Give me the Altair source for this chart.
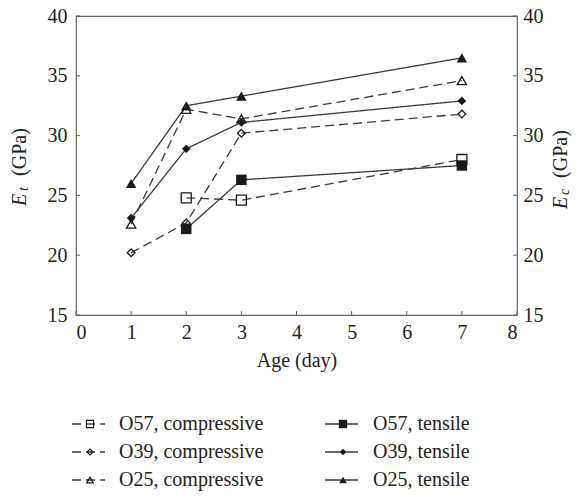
import altair as alt
import pandas as pd

# ---- data ----
series_names = ["O57, compressive", "O39, compressive", "O25, compressive",
                "O57, tensile", "O39, tensile", "O25, tensile"]
series_kind = ["compressive", "compressive", "compressive", "tensile", "tensile", "tensile"]
series_shape = ["square", "diamond", "triangle-up", "square", "diamond", "triangle-up"]
series_days = [[2, 3, 7], [1, 2, 3, 7], [1, 2, 3, 7],
               [2, 3, 7], [1, 2, 3, 7], [1, 2, 3, 7]]
series_values = [[24.8, 24.6, 28.0],
                 [20.2, 22.7, 30.2, 31.8],
                 [22.6, 32.2, 31.4, 34.6],
                 [22.2, 26.3, 27.5],
                 [23.1, 28.9, 31.1, 32.9],
                 [26.0, 32.5, 33.3, 36.5]]
x_ticks = [0, 1, 2, 3, 4, 5, 6, 7, 8]
y_ticks = [15, 20, 25, 30, 35, 40]

# ---- styles ----
W, H = 441, 299
FONT = "'Liberation Serif', 'Times New Roman', 'DejaVu Serif', serif"
LINE_C = "#3a3a3a"
MARK_C = "#1a1a1a"
AX_C = "#666666"
DASH = [9, 5]
size_filled = {"square": 110, "diamond": 75, "triangle-up": 110}
size_open = {"square": 100, "diamond": 60, "triangle-up": 85}
leg_size_filled = {"square": 70, "diamond": 40, "triangle-up": 60}
leg_size_open = {"square": 50, "diamond": 35, "triangle-up": 45}

rows = []
for name, kind, shp, ds, vs in zip(series_names, series_kind, series_shape, series_days, series_values):
    for d, v in zip(ds, vs):
        rows.append({"series": name, "kind": kind, "shape": shp, "day": d, "value": v,
                     "msize": (size_filled if kind == "tensile" else size_open)[shp]})
df = pd.DataFrame(rows)

xs = alt.Scale(domain=[0, 8], nice=False)
ys = alt.Scale(domain=[15, 40], nice=False)

X = alt.X("day:Q", scale=xs,
          axis=alt.Axis(values=x_ticks, format="d", ticks=False, domain=False, grid=False,
                        labelFont=FONT, labelFontSize=20, labelColor="#222", labelPadding=7,
                        title="Age (day)", titleFont=FONT, titleFontSize=20, titleFontWeight="normal",
                        titleColor="#222", titlePadding=8))
Y = alt.Y("value:Q", scale=ys,
          axis=alt.Axis(values=y_ticks, ticks=False, domain=False, grid=False,
                        labelFont=FONT, labelFontSize=20, labelColor="#222", labelPadding=9,
                        title=None))

lines = alt.Chart(df).mark_line(color=LINE_C, strokeWidth=1.3).encode(
    x=X, y=Y, detail="series:N",
    strokeDash=alt.StrokeDash("kind:N", scale=alt.Scale(domain=["compressive", "tensile"],
                                                        range=[DASH, [1, 0]]), legend=None))

pts_t = alt.Chart(df).transform_filter(alt.datum.kind == "tensile").mark_point(
    filled=True, color=MARK_C, opacity=1).encode(
    x="day:Q", y="value:Q",
    shape=alt.Shape("shape:N", scale=None),
    size=alt.Size("msize:Q", scale=None))

pts_c = alt.Chart(df).transform_filter(alt.datum.kind == "compressive").mark_point(
    filled=False, color=MARK_C, strokeWidth=1.3, opacity=1).encode(
    x="day:Q", y="value:Q",
    shape=alt.Shape("shape:N", scale=None),
    size=alt.Size("msize:Q", scale=None))

xt_df = pd.DataFrame({"day": x_ticks})
yt_df = pd.DataFrame({"value": y_ticks})

xticks = alt.Chart(xt_df).mark_rule(color=AX_C, strokeWidth=1).encode(
    x="day:Q", y=alt.value(H), y2=alt.value(H - 4))
lticks = alt.Chart(yt_df).mark_rule(color=AX_C, strokeWidth=1).encode(
    y="value:Q", x=alt.value(0), x2=alt.value(4))

# ---- legend (manual) ----
leg_rows = []
row_y = [408, 436, 464]
col_marker = [14, 267]
col_text = [43, 297]
for i, (name, kind, shp) in enumerate(zip(series_names, series_kind, series_shape)):
    c = 0 if kind == "compressive" else 1
    r = i % 3
    leg_rows.append({"label": name, "kind": kind, "shape": shp,
                     "mx": col_marker[c], "x1": col_marker[c] - 18, "x2": col_marker[c] + 15,
                     "tx": col_text[c], "ly": row_y[r],
                     "msize": (leg_size_filled if kind == "tensile" else leg_size_open)[shp]})
leg = pd.DataFrame(leg_rows)

leg_lines = alt.Chart(leg).mark_rule(color=LINE_C, strokeWidth=1.3).encode(
    x=alt.X("x1:Q", scale=None), x2="x2:Q", y=alt.Y("ly:Q", scale=None),
    strokeDash=alt.StrokeDash("kind:N", scale=alt.Scale(domain=["compressive", "tensile"],
                                                        range=[[7, 4], [1, 0]]), legend=None))
leg_pts_t = alt.Chart(leg).transform_filter(alt.datum.kind == "tensile").mark_point(
    filled=True, color=MARK_C, opacity=1).encode(
    x=alt.X("mx:Q", scale=None), y=alt.Y("ly:Q", scale=None),
    shape=alt.Shape("shape:N", scale=None), size=alt.Size("msize:Q", scale=None))
leg_pts_c = alt.Chart(leg).transform_filter(alt.datum.kind == "compressive").mark_point(
    filled=False, color=MARK_C, strokeWidth=1.2, opacity=1).encode(
    x=alt.X("mx:Q", scale=None), y=alt.Y("ly:Q", scale=None),
    shape=alt.Shape("shape:N", scale=None), size=alt.Size("msize:Q", scale=None))
leg_text = alt.Chart(leg).mark_text(font=FONT, fontSize=20, align="left", baseline="middle",
                                    color="#222").encode(
    x=alt.X("tx:Q", scale=None), y=alt.Y("ly:Q", scale=None), text="label:N")

# ---- axis titles with italic E and subscripts ----
ttl_italic = pd.DataFrame({
    "t": ["E", "t", "E", "c"],
    "x": [-56, -52, 485, 489],
    "y": [184, 173, 187, 176],
    "fs": [20, 14, 20, 14],
})
ttl_norm = pd.DataFrame({"t": ["(GPa)", "(GPa)"], "x": [-56, 485], "y": [136, 138]})

t_it = alt.Chart(ttl_italic).mark_text(font=FONT, fontStyle="italic", angle=270,
                                       align="center", baseline="middle", color="#222").encode(
    x=alt.X("x:Q", scale=None), y=alt.Y("y:Q", scale=None), text="t:N",
    size=alt.Size("fs:Q", scale=None))
t_no = alt.Chart(ttl_norm).mark_text(font=FONT, fontSize=20, angle=270,
                                     align="center", baseline="middle", color="#222").encode(
    x=alt.X("x:Q", scale=None), y=alt.Y("y:Q", scale=None), text="t:N")

left = alt.layer(lines, pts_c, pts_t, xticks, lticks,
                 leg_lines, leg_pts_c, leg_pts_t, leg_text, t_it, t_no)

right = alt.Chart(yt_df).mark_rule(color=AX_C, strokeWidth=1).encode(
    y=alt.Y("value:Q", scale=ys,
            axis=alt.Axis(orient="right", values=y_ticks, ticks=False, domain=False, grid=False,
                          labelFont=FONT, labelFontSize=20, labelColor="#222", labelPadding=6,
                          title=None)),
    x=alt.value(W - 4), x2=alt.value(W))

chart = alt.layer(left, right).resolve_scale(y="independent").properties(
    width=W, height=H,
    autosize=alt.AutoSizeParams(type="none"),
    padding={"left": 68, "top": 8, "right": 54, "bottom": 178},
    background="white",
).configure_view(stroke=AX_C, strokeWidth=1.2)

chart.save("out.html", embed_options={"renderer": "svg", "actions": False})
